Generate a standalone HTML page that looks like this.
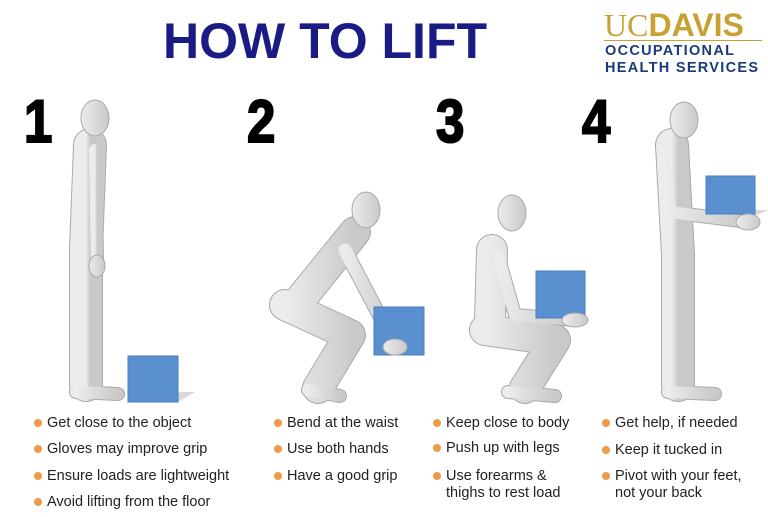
<!DOCTYPE html>
<html><head><meta charset="utf-8"><style>
body{margin:0;width:768px;height:517px;background:#fff;overflow:hidden;position:relative;font-family:"Liberation Sans",sans-serif}
.t{position:absolute;font-size:14.5px;color:#222;line-height:17px;white-space:nowrap}
.d{position:absolute;width:8px;height:8px;border-radius:50%;background:#ee9a4a}
.n{position:absolute;font-weight:bold;font-size:60px;color:#000;transform:scaleX(0.85);transform-origin:left top;line-height:60px;-webkit-text-stroke:2px #000}
</style></head><body>
<div style="position:absolute;left:163px;top:12px;font-size:50px;font-weight:bold;color:#1b1b85;letter-spacing:0px">HOW TO LIFT</div>
<div style="position:absolute;left:604px;top:8px;font-family:'Liberation Serif',serif;font-size:32px;color:#c9a132;line-height:34px">UC<span style="font-family:'Liberation Sans',sans-serif;font-weight:900">DAVIS</span></div>
<div style="position:absolute;left:604px;top:40px;width:158px;height:1px;background:#c9a132"></div>
<div style="position:absolute;left:605px;top:43px;font-size:14.5px;font-weight:bold;color:#1a3a78;line-height:17px;letter-spacing:1.3px">OCCUPATIONAL<br>HEALTH SERVICES</div>
<div class="n" style="left:24px;top:92px">1</div>
<div class="n" style="left:247px;top:92px">2</div>
<div class="n" style="left:436px;top:92px">3</div>
<div class="n" style="left:582px;top:92px">4</div>
<svg width="768" height="517" style="position:absolute;left:0;top:0">
<defs><linearGradient id="g" x1="0" x2="1"><stop offset="0" stop-color="#ececec"/><stop offset="1" stop-color="#c9c9c9"/></linearGradient></defs>
<g stroke-linecap="round" stroke-linejoin="round" fill="none">
<g stroke="#a9a9a9">
<path d="M86 250 L86 385 M90 145 L86 250" stroke-width="34"/>
<path d="M76 392 L118 394" stroke-width="14"/>
<path d="M95 150 L97 260" stroke-width="14"/>
</g>
<g stroke="url(#g)">
<path d="M86 250 L86 385 M90 145 L86 250" stroke-width="32"/>
<path d="M76 392 L118 394" stroke-width="12"/>
<path d="M95 150 L97 262" stroke-width="12"/>
</g>
<g stroke="#a9a9a9">
<path d="M300 300 L355 232 M285 305 L350 335 L318 388" stroke-width="32"/>
<path d="M308 390 L340 396" stroke-width="14"/>
<path d="M345 250 L395 345" stroke-width="15"/>
</g>
<g stroke="url(#g)">
<path d="M300 300 L355 232 M285 305 L350 335 L318 388" stroke-width="30"/>
<path d="M308 390 L340 396" stroke-width="12"/>
<path d="M345 250 L395 345" stroke-width="13"/>
</g>
<g stroke="#a9a9a9">
<path d="M492 250 L490 320 M485 330 L555 340 L525 388" stroke-width="32"/>
<path d="M508 392 L555 396" stroke-width="14"/>
<path d="M498 255 L515 315 L575 320" stroke-width="14"/>
</g>
<g stroke="url(#g)">
<path d="M492 250 L490 320 M485 330 L555 340 L525 388" stroke-width="30"/>
<path d="M508 392 L555 396" stroke-width="12"/>
<path d="M498 255 L515 315 L575 320" stroke-width="12"/>
</g>
<g stroke="#a9a9a9">
<path d="M672 145 L678 255 L678 385" stroke-width="34"/>
<path d="M668 392 L715 394" stroke-width="14"/>
<path d="M665 160 L670 212 L748 222" stroke-width="14"/>
</g>
<g stroke="url(#g)">
<path d="M672 145 L678 255 L678 385" stroke-width="32"/>
<path d="M668 392 L715 394" stroke-width="12"/>
<path d="M665 160 L670 212 L748 222" stroke-width="12"/>
</g>
</g>
<g fill="url(#g)" stroke="#a9a9a9">
<ellipse cx="95" cy="118" rx="14" ry="18"/>
<ellipse cx="366" cy="210" rx="14" ry="18"/>
<ellipse cx="512" cy="213" rx="14" ry="18"/>
<ellipse cx="684" cy="120" rx="14" ry="18"/>
</g>
<g fill="#d9d9d9"><path d="M178 392 L195 392 L178 402Z"/><path d="M755 210 L768 210 L755 216Z"/></g>
<g fill="#5a8fd0" stroke="#4a7cbc">
<rect x="128" y="356" width="50" height="46"/>
<rect x="374" y="307" width="50" height="48"/>
<rect x="536" y="271" width="49" height="47"/>
<rect x="706" y="176" width="49" height="38"/>
</g>
<g fill="url(#g)" stroke="#a9a9a9">
<ellipse cx="97" cy="266" rx="8" ry="11"/>
<ellipse cx="395" cy="347" rx="12" ry="8"/>
<ellipse cx="575" cy="320" rx="13" ry="7"/>
<ellipse cx="748" cy="222" rx="12" ry="8"/>
</g>
</svg>
<div class="d" style="left:34px;top:419px"></div><div class="t" style="left:47px;top:415px">Get close to the object</div>
<div class="d" style="left:34px;top:445px"></div><div class="t" style="left:47px;top:441px">Gloves may improve grip</div>
<div class="d" style="left:34px;top:472px"></div><div class="t" style="left:47px;top:468px">Ensure loads are lightweight</div>
<div class="d" style="left:34px;top:498px"></div><div class="t" style="left:47px;top:494px">Avoid lifting from the floor</div>
<div class="d" style="left:274px;top:419px"></div><div class="t" style="left:287px;top:415px">Bend at the waist</div>
<div class="d" style="left:274px;top:445px"></div><div class="t" style="left:287px;top:441px">Use both hands</div>
<div class="d" style="left:274px;top:472px"></div><div class="t" style="left:287px;top:468px">Have a good grip</div>
<div class="d" style="left:433px;top:419px"></div><div class="t" style="left:446px;top:415px">Keep close to body</div>
<div class="d" style="left:433px;top:444px"></div><div class="t" style="left:446px;top:440px">Push up with legs</div>
<div class="d" style="left:433px;top:472px"></div><div class="t" style="left:446px;top:468px">Use forearms &amp;<br>thighs to rest load</div>
<div class="d" style="left:602px;top:419px"></div><div class="t" style="left:615px;top:415px">Get help, if needed</div>
<div class="d" style="left:602px;top:446px"></div><div class="t" style="left:615px;top:442px">Keep it tucked in</div>
<div class="d" style="left:602px;top:472px"></div><div class="t" style="left:615px;top:468px">Pivot with your feet,<br>not your back</div>
</body></html>
